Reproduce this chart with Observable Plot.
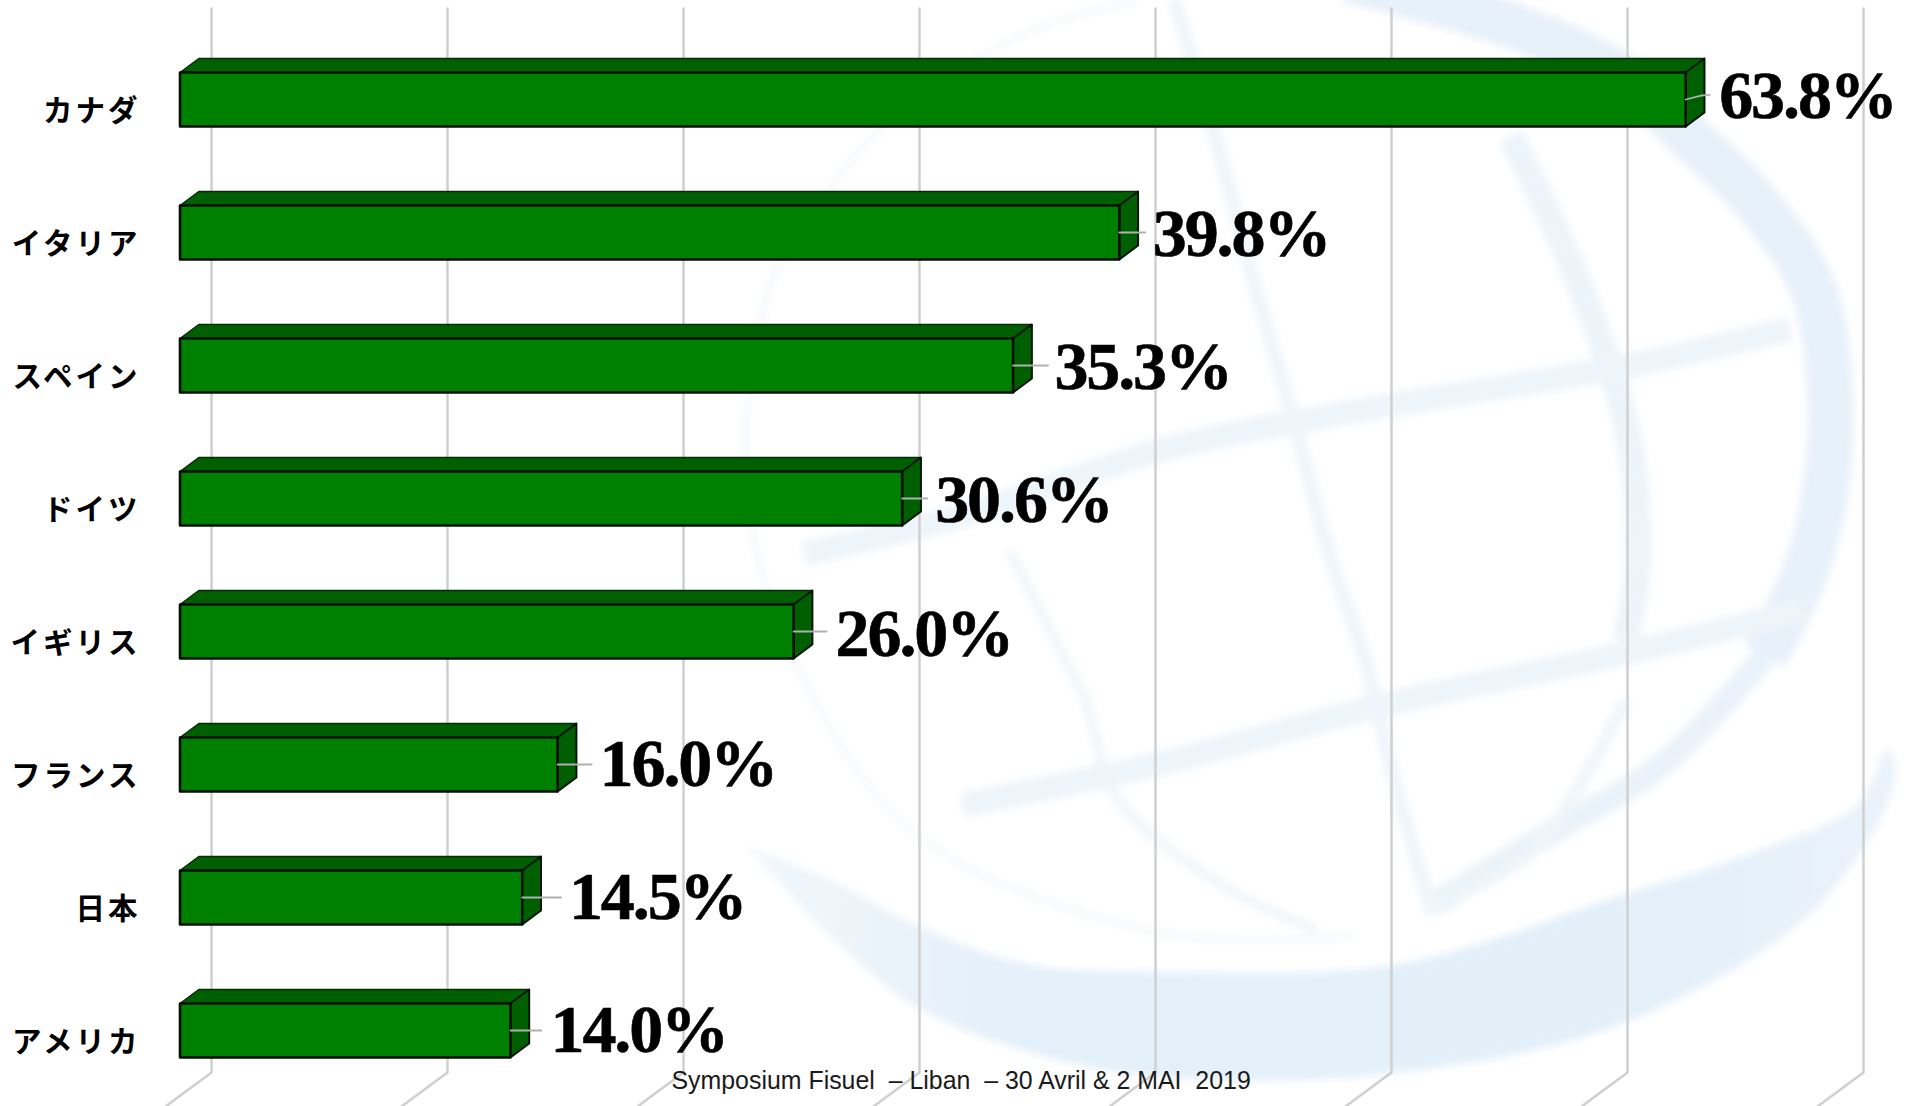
<!DOCTYPE html>
<html lang="ja">
<head>
<meta charset="utf-8">
<title>Symposium Fisuel</title>
<script src="https://cdn.jsdelivr.net/npm/d3@7"></script>
<script src="https://cdn.jsdelivr.net/npm/@observablehq/plot@0.6"></script>
<style>
  html, body { margin: 0; padding: 0; background: #fff; }
  #stage { position: relative; width: 1910px; height: 1106px; overflow: hidden; }
  #globe, #chart { position: absolute; left: 0; top: 0; }
  #chart svg { background: transparent; display: block; }
</style>
</head>
<body>
<div id="stage">
  <svg id="globe" width="1910" height="1106" viewBox="0 0 1910 1106"></svg>
  <div id="chart"></div>
</div>
<script>
// Share of each country, in percent, longest bar first
const countries = ["カナダ", "イタリア", "スペイン", "ドイツ", "イギリス", "フランス", "日本", "アメリカ"];
const shares = [63.8, 39.8, 35.3, 30.6, 26.0, 16.0, 14.5, 14.0];
const gridTicks = [0, 10, 20, 30, 40, 50, 60, 70];
const caption = "Symposium Fisuel\u00a0 – Liban\u00a0 – 30 Avril & 2 MAI\u00a0 2019";

// Drawing geometry of the pseudo-3D bars
const W = 1910, H = 1106;
const pxPerPct = 23.6, zeroPx = 179.5, rowPx = 133, firstRowPx = 99;
const layout = {
  halfBar: 27 / rowPx,
  depthX: 18.8 / pxPerPct,
  depthY: 14 / rowPx,
  wallX: 31.5 / pxPerPct,
  floorX: (31.5 - 46) / pxPerPct,
  gridTop: (8 - firstRowPx) / rowPx,
  gridFloor: (1072 - firstRowPx) / rowPx,
  gridEnd: (1106 - firstRowPx) / rowPx,
  leaderReach: [1.02, 1.1, 1.48, 1.06, 1.4, 1.44, 1.65, 1.31],
  labelGap: [1.42, 1.42, 1.75, 1.40, 1.78, 1.78, 1.98, 1.70],
  labelDrop: [-0.018, 0.018, 0.018, 0.018, 0.027, 0.009, 0.009, 0.009]
};

const rows = countries.map((name, i) => ({name, i, value: shares[i]}));

// Closed outlines for the three faces of each bar
const face = (pick) => rows.flatMap((r) => pick(r).map(([x, y]) => ({id: r.i, x, y})));
const {halfBar: hb, depthX: dx, depthY: dy} = layout;
const frontFace = face((r) => [[0, r.i - hb], [r.value, r.i - hb], [r.value, r.i + hb], [0, r.i + hb]]);
const topFace = face((r) => [[0, r.i - hb], [dx, r.i - hb - dy], [r.value + dx, r.i - hb - dy], [r.value, r.i - hb]]);
const sideFace = face((r) => [[r.value, r.i - hb], [r.value + dx, r.i - hb - dy], [r.value + dx, r.i + hb - dy], [r.value, r.i + hb]]);

// Wall gridlines bending forward onto the floor
const gridPaths = gridTicks.flatMap((t) => [
  {t, x: t + layout.wallX, y: layout.gridTop},
  {t, x: t + layout.wallX, y: layout.gridFloor},
  {t, x: t + layout.floorX, y: layout.gridEnd}
]);

// Thin connectors between the bars and their value labels
const leaders = rows.flatMap((r) => r.i === 0
  ? [{id: 0, x: r.value, y: 0}, {id: 0, x: r.value + 0.65, y: -0.03}, {id: 0, x: r.value + layout.leaderReach[0], y: -0.035}]
  : [{id: r.i, x: r.value, y: r.i}, {id: r.i, x: r.value + layout.leaderReach[r.i], y: r.i}]);

const chart = Plot.plot({
  width: W,
  height: H,
  margin: 0,
  style: {background: "transparent", overflow: "visible"},
  x: {axis: null, domain: [-zeroPx / pxPerPct, (W - zeroPx) / pxPerPct], range: [0, W]},
  y: {axis: null, domain: [-firstRowPx / rowPx, (H - firstRowPx) / rowPx], range: [0, H]},
  marks: [
    Plot.line(gridPaths, {x: "x", y: "y", z: "t", stroke: "#cfcfcf", strokeWidth: 2.5, strokeLinecap: "round", strokeLinejoin: "round"}),
    Plot.line(topFace, {x: "x", y: "y", z: "id", curve: "linear-closed", fill: "#005f00", stroke: "#0a2a0a", strokeWidth: 1.5, strokeLinejoin: "round"}),
    Plot.line(sideFace, {x: "x", y: "y", z: "id", curve: "linear-closed", fill: "#005f00", stroke: "#051505", strokeWidth: 2, strokeLinejoin: "round"}),
    Plot.line(frontFace, {x: "x", y: "y", z: "id", curve: "linear-closed", fill: "#008000", stroke: "#031003", strokeWidth: 2.6, strokeLinejoin: "round"}),
    Plot.line(leaders, {x: "x", y: "y", z: "id", stroke: "#b0b0b0", strokeWidth: 1.8}),
    Plot.text(rows, {
      x: (r) => r.value + layout.labelGap[r.i],
      y: (r) => r.i + layout.labelDrop[r.i],
      text: (r) => `${r.value.toFixed(1)}%`,
      textAnchor: "start",
      fontFamily: "Liberation Serif",
      fontWeight: 700,
      fontSize: 68,
      fill: "#000",
      stroke: "#000",
      strokeWidth: 0.6,
      dy: -1
    }),
    Plot.axisY({
      ticks: rows.map((r) => r.i),
      tickFormat: (i) => countries[i],
      anchor: "left",
      label: null,
      tickSize: 0,
      tickPadding: 0,
      textAnchor: "end",
      dx: 140,
      dy: 12.5,
      fontFamily: "Noto Sans CJK JP",
      fontWeight: 700,
      fontSize: 29.5,
      fill: "#000"
    }),
    Plot.text([caption], {
      frameAnchor: "bottom-left",
      textAnchor: "start",
      dx: 671,
      dy: -18,
      fontFamily: "Liberation Sans",
      fontSize: 24.9,
      fill: "#1a1a1a"
    })
  ]
});
chart.querySelectorAll("text").forEach((t) => {
  if (t.closest("[font-size='68']")) t.style.letterSpacing = "-2.1px";
  if (t.closest("[aria-label='y-axis tick label']")) t.style.letterSpacing = "3px";
});
document.getElementById("chart").appendChild(chart);

// Pale globe emblem printed behind the chart
const globe = d3.select("#globe");
const defs = globe.append("defs");
defs.append("filter").attr("id", "soft").append("feGaussianBlur").attr("stdDeviation", 4);
const fade = defs.append("linearGradient").attr("id", "sweep");
[[0, "#f1f7fb"], [0.25, "#e3eff9"], [0.75, "#e2eff9"], [1, "#eaf3fa"]].forEach(([o, c]) =>
  fade.append("stop").attr("offset", o).attr("stop-color", c));
const art = globe.append("g").attr("filter", "url(#soft)");
const smooth = d3.line().curve(d3.curveCatmullRom.alpha(0.5));
const stroke = (pts, width, color) => art.append("path")
  .attr("d", smooth(pts)).attr("fill", "none").attr("stroke", color)
  .attr("stroke-width", width).attr("stroke-linejoin", "round");

// Sweeping band under the globe
art.append("path").attr("fill", "url(#sweep)").attr("d",
  smooth([[745, 845], [830, 935], [916, 1007], [1030, 1052], [1163, 1077], [1394, 1073], [1626, 1022], [1819, 905], [1895, 780], [1888, 748],
          [1857, 805], [1760, 850], [1626, 894], [1394, 965], [1163, 972], [1030, 965], [916, 925], [830, 880], [745, 845]]));

// Outer rim of the globe
stroke([[1348, -20], [1510, 25], [1620, 75], [1696, 143], [1754, 200], [1812, 286], [1830, 393], [1824, 500], [1803, 578], [1765, 656]], 46, "#e7f1f9");
stroke([[1765, 656], [1664, 763], [1549, 834], [1433, 905]], 24, "#e9f2fa");
// Meridians
stroke([[1511, 136], [1580, 286], [1627, 429], [1638, 560], [1626, 640]], 26, "#ecf4fa");
stroke([[1174, 0], [1215, 136], [1255, 286], [1296, 429], [1331, 560], [1364, 656], [1394, 780], [1433, 915]], 14, "#eff5fa");
stroke([[1009, 550], [1060, 650], [1086, 702], [1117, 798], [1225, 887], [1317, 930]], 10, "#f1f6f9");
stroke([[1626, 699], [1533, 851], [1433, 905]], 12, "#eff5fa");
// Parallels
stroke([[804, 554], [975, 512], [1157, 451], [1340, 414], [1632, 365], [1790, 329]], 24, "#edf4fa");
stroke([[962, 805], [1163, 763], [1379, 706], [1626, 653], [1803, 610]], 24, "#edf4fa");
// Thin back outline of the sphere
stroke([[1139, 0], [1058, 21], [1000, 46], [880, 130], [777, 269], [762, 316], [746, 489], [793, 656], [916, 834], [1163, 933], [1356, 936]], 5, "#f3f6f8");
</script>
</body>
</html>
